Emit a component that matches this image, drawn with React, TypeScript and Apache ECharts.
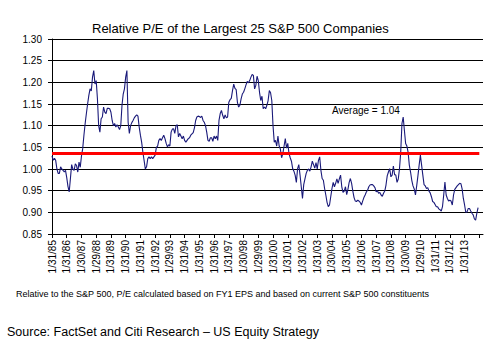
import React, { useEffect, useRef } from "react";
import * as echarts from "echarts";

const TITLE = "Relative P/E of the Largest 25 S&P 500 Companies";
const FOOTNOTE =
  "Relative to the S&P 500, P/E calculated based on FY1 EPS and based on current S&P 500 constituents";
const SOURCE = "Source: FactSet and Citi Research \u2013 US Equity Strategy";
const AVERAGE_LABEL = "Average = 1.04";
const AVERAGE_LEVEL = 1.036;

// January tick labels (one per year)
const yearLabels = [
  "1/31/85", "1/31/86", "1/30/87", "1/29/88", "1/31/89", "1/31/90", "1/31/91",
  "1/31/92", "1/29/93", "1/31/94", "1/31/95", "1/31/96", "1/31/97", "1/30/98",
  "1/29/99", "1/31/00", "1/31/01", "1/31/02", "1/31/03", "1/30/04", "1/31/05",
  "1/31/06", "1/31/07", "1/31/08", "1/30/09", "1/29/10", "1/31/11", "1/31/12",
  "1/31/13",
];
const MONTHS_ON_AXIS = 352; // Jan 1985 .. Apr 2014 slots

// Monthly relative P/E, Jan 1985 - Mar 1992
const pe1985to1992 = [
  1.03, 1.02, 1.025, 1.02, 1.0, 0.99, 0.99, 1.005, 1.0, 0.997, 0.993, 0.997,
  0.98, 0.96, 0.947, 0.978, 1.01, 1.0, 0.997, 1.012, 1.008, 0.993, 1.016, 1.004,
  1.03, 1.047, 1.078, 1.105, 1.128, 1.15, 1.17, 1.185, 1.18, 1.212, 1.227, 1.196,
  1.204, 1.162, 1.1, 1.085, 1.116, 1.12, 1.143, 1.131, 1.128, 1.14, 1.14, 1.139,
  1.131, 1.112, 1.1, 1.105, 1.097, 1.102, 1.097, 1.091, 1.1, 1.147, 1.173, 1.185,
  1.212, 1.227, 1.108, 1.082, 1.1, 1.107, 1.112, 1.118, 1.122, 1.125, 1.122, 1.097,
  1.078, 1.062, 1.039, 1.02, 1.0, 1.005, 1.024, 1.028, 1.024, 1.028, 1.024, 1.028,
  1.032, 1.05, 1.053,
];
// Apr 1992 - May 1999
const pe1992to1999 = [
  1.066, 1.07, 1.066, 1.072, 1.078, 1.07, 1.059, 1.051, 1.056, 1.053, 1.085, 1.092,
  1.093, 1.082, 1.1, 1.102, 1.074, 1.082, 1.076, 1.07, 1.076, 1.066, 1.062, 1.066,
  1.07, 1.072, 1.078, 1.081, 1.084, 1.095, 1.112, 1.12, 1.122, 1.121, 1.119, 1.122,
  1.112, 1.108, 1.1, 1.085, 1.066, 1.064, 1.072, 1.072, 1.064, 1.076, 1.07, 1.076,
  1.066, 1.112, 1.128, 1.135, 1.124, 1.116, 1.125, 1.118, 1.12, 1.154, 1.16, 1.163,
  1.181, 1.196, 1.186, 1.183, 1.154, 1.143, 1.147, 1.162, 1.173, 1.177, 1.185, 1.194,
  1.202, 1.199, 1.204, 1.212, 1.218, 1.216, 1.185, 1.193, 1.214, 1.204, 1.177, 1.158,
  1.168, 1.139,
];
// Jun 1999 - Aug 2006
const pe1999to2006 = [
  1.143, 1.139, 1.147, 1.158, 1.181, 1.176, 1.158, 1.1, 1.062, 1.066, 1.053, 1.076,
  1.053, 1.046, 1.026, 1.036, 1.053, 1.07, 1.048, 1.059, 1.036, 1.026, 1.018, 1.001,
  0.995, 0.986, 0.969, 1.001, 1.01, 0.986, 0.959, 0.932, 0.964, 0.977, 0.99, 0.997,
  1.0, 0.995, 1.005, 1.018, 1.01, 1.002, 1.015, 1.0, 1.02, 1.028, 0.997, 0.978,
  0.974, 0.955, 0.94, 0.923, 0.913, 0.917, 0.936, 0.955, 0.969, 0.959, 0.967, 0.977,
  0.967, 0.977, 0.986, 0.959, 0.946, 0.949, 0.959, 0.941, 0.953, 0.969, 0.978, 0.967,
  0.949, 0.934, 0.926, 0.925, 0.928, 0.926, 0.923, 0.917, 0.926, 0.934, 0.94, 0.947,
  0.951, 0.959, 0.963,
];
// Sep 2006 - Dec 2013
const pe2006to2013 = [
  0.964, 0.964, 0.961, 0.957, 0.947, 0.95, 0.944, 0.946, 0.94, 0.937, 0.944, 0.949,
  0.963, 0.984, 0.993, 1.001, 0.982, 0.986, 1.007, 0.987, 0.986, 0.969, 0.977, 1.001,
  1.039, 1.105, 1.12, 1.089, 1.059, 1.053, 1.039, 1.009, 0.993, 0.974, 0.961, 0.954,
  0.94, 0.961, 0.984, 1.009, 1.032, 1.009, 0.986, 0.964, 0.961, 0.955, 0.957, 0.949,
  0.945, 0.936, 0.925, 0.923, 0.918, 0.913, 0.913, 0.908, 0.906, 0.903, 0.913, 0.94,
  0.97, 0.94, 0.932, 0.926, 0.928, 0.926, 0.917, 0.94, 0.953, 0.957, 0.961, 0.964,
  0.967, 0.966, 0.954, 0.932, 0.917, 0.9, 0.901, 0.909, 0.909, 0.903, 0.898, 0.894,
  0.885, 0.882, 0.898, 0.911,
];

const relativePE = [...pe1985to1992, ...pe1992to1999, ...pe1999to2006, ...pe2006to2013];

const FONT = "'Liberation Sans', Arial, sans-serif";

export default function App() {
  const ref = useRef<HTMLDivElement>(null);

  useEffect(() => {
    if (!ref.current) return;
    const chart = echarts.init(ref.current, null, { renderer: "svg" });
    const categories: string[] = [];
    for (let i = 0; i < MONTHS_ON_AXIS; i++) {
      categories.push(i % 12 === 0 && yearLabels[i / 12] ? yearLabels[i / 12] : "");
    }
    const isYearTick = (i: number) => i % 12 === 0;

    chart.setOption({
      animation: false,
      backgroundColor: "#ffffff",
      textStyle: { fontFamily: FONT },
      grid: { left: 52, right: 11, top: 39, bottom: 110, containLabel: false },
      xAxis: {
        type: "category",
        boundaryGap: false,
        data: categories,
        axisLine: { lineStyle: { color: "#000", width: 1 } },
        axisTick: { show: true, interval: isYearTick, length: 4, lineStyle: { color: "#000" } },
        axisLabel: {
          interval: isYearTick,
          rotate: 90,
          margin: 6,
          fontSize: 10,
          color: "#000",
          fontFamily: FONT,
        },
        splitLine: { show: false },
      },
      yAxis: {
        type: "value",
        min: 0.85,
        max: 1.3,
        interval: 0.05,
        axisLine: { show: true, lineStyle: { color: "#000", width: 1 } },
        axisTick: { show: true, length: 4, lineStyle: { color: "#000" } },
        axisLabel: {
          formatter: (v: number) => v.toFixed(2),
          fontSize: 10,
          color: "#000",
          margin: 10,
          fontFamily: FONT,
        },
        splitLine: { show: true, lineStyle: { color: "#000", width: 1 } },
      },
      series: [
        {
          type: "line",
          data: relativePE,
          showSymbol: false,
          symbol: "none",
          lineStyle: { color: "#1a1a7a", width: 1.1 },
          z: 3,
          markLine: {
            silent: true,
            symbol: "none",
            label: { show: false },
            lineStyle: { color: "#ff0000", width: 3, type: "solid" },
            data: [
              [
                { coord: [0, AVERAGE_LEVEL] },
                { coord: [yearLabels.length * 12, AVERAGE_LEVEL] },
              ],
            ],
          },
        },
      ],
      graphic: [
        {
          type: "text",
          x: 92,
          y: 28,
          style: { text: TITLE, font: `13px ${FONT}`, fill: "#000", verticalAlign: "middle" },
        },
        {
          type: "text",
          x: 332,
          y: 110,
          style: { text: AVERAGE_LABEL, font: `10px ${FONT}`, fill: "#000", verticalAlign: "middle" },
        },
        {
          type: "text",
          x: 16,
          y: 294,
          style: { text: FOOTNOTE, font: `9px ${FONT}`, fill: "#000", verticalAlign: "middle" },
        },
        {
          type: "text",
          x: 7,
          y: 332,
          style: { text: SOURCE, font: `12.5px ${FONT}`, fill: "#000", verticalAlign: "middle" },
        },
      ],
    });
    return () => chart.dispose();
  }, []);

  return (
    <div
      ref={ref}
      style={{ position: "fixed", left: 0, top: 0, width: 494, height: 344, background: "#fff" }}
    />
  );
}
